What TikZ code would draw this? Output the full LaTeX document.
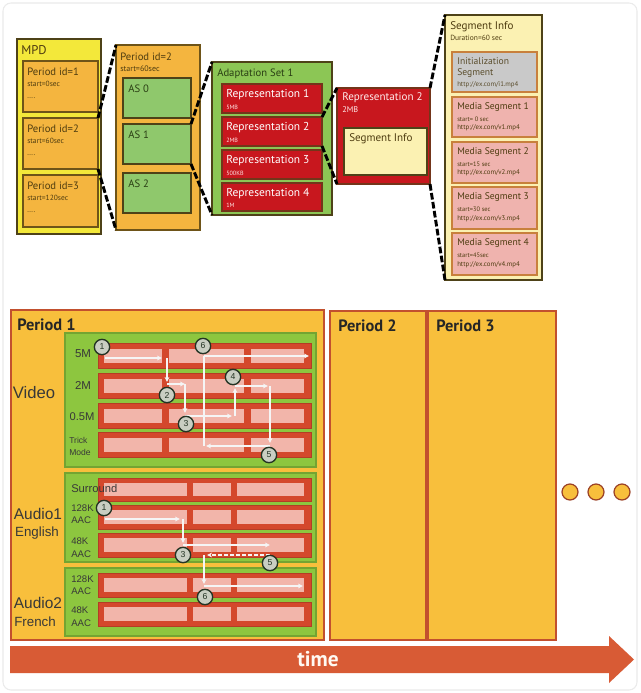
\documentclass[tikz,border=0pt]{standalone}
\usepackage{fontspec}
\setmainfont{PT Sans}
\newfontfamily\arialf{Liberation Sans}
\usetikzlibrary{arrows.meta}
\definecolor{mpdY}{HTML}{F3E83A}
\definecolor{orP}{HTML}{F4B53F}
\definecolor{edgeD}{HTML}{4E4218}
\definecolor{edgeB}{HTML}{6E5418}
\definecolor{asG}{HTML}{8FC86C}
\definecolor{adG}{HTML}{8CC655}
\definecolor{repR}{HTML}{C8171E}
\definecolor{segY}{HTML}{FBF1B2}
\definecolor{initG}{HTML}{C9C9C9}
\definecolor{medP}{HTML}{EFB3AE}
\definecolor{segE}{HTML}{C8803C}
\definecolor{txB}{HTML}{4E3C10}
\definecolor{txG}{HTML}{2A3E14}
\definecolor{perF}{HTML}{F8BF3C}
\definecolor{perE}{HTML}{C2502E}
\definecolor{grB}{HTML}{8DC63F}
\definecolor{grE}{HTML}{74A432}
\definecolor{rowR}{HTML}{D4482C}
\definecolor{pinkS}{HTML}{F2B5AA}
\definecolor{arrC}{HTML}{D85B35}
\definecolor{circF}{HTML}{C9CEC2}
\definecolor{circE}{HTML}{243424}
\newcommand{\bx}[6]{\node[#2,anchor=north west,inner sep=0pt,outer sep=0pt,minimum width={(#5-#3)*0.75pt},minimum height={(#6-#4)*0.75pt}] (#1) at (#3,#4) {};}
\begin{document}
\begin{tikzpicture}[x=0.75pt,y=-0.75pt,
  tx/.style={inner sep=0pt,anchor=west},
  big/.style={font=\fontsize{8}{9}\selectfont},
  small/.style={font=\fontsize{5.6}{6}\selectfont},
  tiny/.style={font=\fontsize{4.8}{5}\selectfont},
  url/.style={font=\fontsize{5.1}{5.5}\selectfont},
  mid/.style={font=\fontsize{7.2}{8}\selectfont},
  zoomline/.style={draw=black,line width=2.2pt,dash pattern=on 5pt off 1.8pt},
  mpdbox/.style={draw=edgeD,fill=mpdY,line width=1.4pt},
  perbox/.style={draw=edgeB,fill=orP,line width=1pt},
  asbox/.style={draw=edgeD,fill=asG,line width=1pt},
  adbox/.style={draw=edgeD,fill=adG,line width=1.4pt},
  repbox/.style={draw=edgeD!70!repR,fill=repR,line width=1pt},
  sibox/.style={draw=edgeD,fill=segY,line width=1.4pt},
  initbox/.style={draw=segE,fill=initG,line width=1pt},
  medbox/.style={draw=segE,fill=medP,line width=1pt},
  period/.style={draw=perE,fill=perF,line width=1pt},
  grbox/.style={draw=grE,fill=grB,line width=1pt},
  rowbox/.style={draw=rowR!85!black,fill=rowR,line width=0.6pt},
  lab/.style={inner sep=0pt,text=black!78,font=\arialf\fontsize{6.6}{7}\selectfont},
  biglab/.style={inner sep=0pt,text=black!78,font=\arialf\fontsize{12.5}{13}\selectfont},
  ptitle/.style={inner sep=0pt,anchor=west,text=black!85,font=\bfseries\fontsize{12.3}{13}\selectfont},
  num/.style={circle,draw=circE,fill=circF,line width=1pt,minimum size=11.5pt,inner sep=0pt,text=circE,font=\arialf\fontsize{6.5}{6.5}\selectfont},
  walk/.style={draw=white!92!gray,line width=1pt,-{Stealth[length=3.8pt,width=3.6pt]}},
  walkd/.style={walk,dash pattern=on 3pt off 1.5pt},
  dot/.style={circle,draw=perE!80!black,fill=perF,line width=0.9pt,minimum size=12pt,inner sep=0pt}
]
\useasboundingbox (0,0) rectangle (640,693);
\fill[white] (0,0) rectangle (640,693);
\draw[black!8,line width=0.8pt,rounded corners=6pt] (3,3) rectangle (637,690);

% ---------- TOP: MPD ----------
\bx{mpd}{mpdbox}{17}{39}{101}{234}
\node[tx,text=txB,font=\fontsize{9.5}{10}\selectfont] (mpdt) at (21,50) {MPD};
\bx{pid1}{perbox}{23}{61}{98}{112}
\bx{pid2}{perbox}{23}{118}{98}{169}
\bx{pid3}{perbox}{23}{175}{98}{227}
\node[tx,big,text=txB] (p1a) at (27,72) {Period id=1};
\node[tx,small,text=txB] (p1b) at (27,84) {start=0sec};
\node[tx,small,text=txB] (p1c) at (27,98) {....};
\node[tx,big,text=txB] (p2a) at (27,129) {Period id=2};
\node[tx,small,text=txB] (p2b) at (27,141) {start=60sec};
\node[tx,small,text=txB] (p2c) at (27,155) {....};
\node[tx,big,text=txB] (p3a) at (27,186) {Period id=3};
\node[tx,small,text=txB] (p3b) at (27,198) {start=120sec};
\node[tx,small,text=txB] (p3c) at (27,212) {....};

% ---------- Period detail ----------
\bx{pdet}{perbox}{116}{45}{200}{230}
\node[tx,big,text=txB] (pdt1) at (120,57) {Period id=2};
\node[tx,small,text=txB,font=\fontsize{6}{6}\selectfont] (pdt2) at (120,69) {start=60sec};
\bx{as0}{asbox}{123}{78}{191}{118}
\bx{as1}{asbox}{123}{124}{191}{164}
\bx{as2}{asbox}{123}{173}{191}{213}
\node[tx,big,text=txG] (as0t) at (128,89) {AS 0};
\node[tx,big,text=txG] (as1t) at (128,135) {AS 1};
\node[tx,big,text=txG] (as2t) at (128,184) {AS 2};

% ---------- Adaptation set ----------
\bx{aset}{adbox}{212}{62}{332}{215}
\node[tx,big,text=txG] (asett) at (217,74) {Adaptation Set 1};
\bx{r1}{repbox}{222}{84}{322}{113}
\bx{r2}{repbox}{222}{117}{322}{146}
\bx{r3}{repbox}{222}{150}{322}{179}
\bx{r4}{repbox}{222}{183}{322}{211}
\node[tx,text=white,font=\fontsize{8.6}{9}\selectfont] (r1a) at (226,95) {Representation 1};
\node[tx,text=white!90!red,font=\fontsize{4.6}{5}\selectfont] (r1b) at (226,107) {5MB};
\node[tx,text=white,font=\fontsize{8.6}{9}\selectfont] (r2a) at (226,128) {Representation 2};
\node[tx,text=white!90!red,font=\fontsize{4.6}{5}\selectfont] (r2b) at (226,140) {2MB};
\node[tx,text=white,font=\fontsize{8.6}{9}\selectfont] (r3a) at (226,161) {Representation 3};
\node[tx,text=white!90!red,font=\fontsize{4.6}{5}\selectfont] (r3b) at (226,173) {500KB};
\node[tx,text=white,font=\fontsize{8.6}{9}\selectfont] (r4a) at (226,194) {Representation 4};
\node[tx,text=white!90!red,font=\fontsize{4.6}{5}\selectfont] (r4b) at (226,205) {1M};

% ---------- Big representation ----------
\bx{brep}{repbox}{337}{88}{430}{184}
\node[tx,text=white!92!red,font=\fontsize{8.3}{9}\selectfont] (brt1) at (342,98) {Representation 2};
\node[tx,text=white!92!red,font=\fontsize{6.2}{7}\selectfont] (brt2) at (342,110) {2MB};
\bx{bseg}{draw=edgeD,fill=segY,line width=0.8pt}{344}{128}{427}{175}
\node[tx,text=txB,font=\fontsize{8.3}{9}\selectfont] (bsegt) at (349,139) {Segment Info};

% ---------- Segment Info ----------
\bx{sinfo}{sibox}{445}{15}{542}{280}
\node[tx,text=txB,font=\fontsize{8.3}{9}\selectfont] (sit1) at (450,27) {Segment Info};
\node[tx,text=txB,font=\fontsize{5.6}{6}\selectfont] (sit2) at (450,38) {Duration=60 sec};
\bx{init}{initbox}{452}{52}{537}{92}
\node[tx,mid,text=txB!75!gray] (in1) at (457,61) {Initialization};
\node[tx,mid,text=txB!75!gray] (in2) at (457,73) {Segment};
\node[tx,url,text=txB!75!gray] (in3) at (457,85) {http://ex.com/i1.mp4};
\bx{ms1}{medbox}{452}{97}{537}{137}
\bx{ms2}{medbox}{452}{142}{537}{183}
\bx{ms3}{medbox}{452}{187}{537}{229}
\bx{ms4}{medbox}{452}{233}{537}{275}
\node[tx,mid,text=txB] (m1a) at (457,107) {Media Segment 1};
\node[tx,tiny,text=txB] (m1b) at (457,119) {start= 0 sec};
\node[tx,url,text=txB] (m1c) at (457,128) {http://ex.com/v1.mp4};
\node[tx,mid,text=txB] (m2a) at (457,152) {Media Segment 2};
\node[tx,tiny,text=txB] (m2b) at (457,164) {start=15 sec};
\node[tx,url,text=txB] (m2c) at (457,173) {http://ex.com/v2.mp4};
\node[tx,mid,text=txB] (m3a) at (457,197) {Media Segment 3};
\node[tx,tiny,text=txB] (m3b) at (457,209) {start=30 sec};
\node[tx,url,text=txB] (m3c) at (457,219) {http://ex.com/v3.mp4};
\node[tx,mid,text=txB] (m4a) at (457,243) {Media Segment 4};
\node[tx,tiny,text=txB] (m4b) at (457,255) {start=45sec};
\node[tx,url,text=txB] (m4c) at (457,265) {http://ex.com/v4.mp4};

% ---------- zoom connectors ----------
\draw[zoomline] (pid2.north east) -- (pdet.north west);
\draw[zoomline] (pid2.south east) -- (pdet.south west);
\draw[zoomline] (as1.north east) -- (aset.north west);
\draw[zoomline] (as1.south east) -- (aset.south west);
\draw[zoomline] (r2.north east) -- (brep.north west);
\draw[zoomline] (r2.south east) -- (brep.south west);
\draw[zoomline] (brep.north east) -- (sinfo.north west);
\draw[zoomline] (brep.south east) -- (sinfo.south west);

% ---------- BOTTOM ----------
\bx{per1}{period}{11}{310}{324}{640}
\bx{per2}{period}{330}{311}{426}{640}
\bx{per3}{period}{428}{311}{556}{640}
\node[ptitle] (per1t) at (17,325) {Period 1};
\node[ptitle] (per2t) at (338,326) {Period 2};
\node[ptitle] (per3t) at (436,326) {Period 3};

\bx{gvid}{grbox}{65}{333}{316}{467}
\bx{gau1}{grbox}{65}{473}{316}{562}
\bx{gau2}{grbox}{65}{568}{316}{636}

% video rows
\foreach \n/\a/\b in {v1/343/368, v2/373/398, v3/403/428, v4/432/457}{
  \bx{\n}{rowbox}{98}{\a}{311}{\b}
  \fill[pinkS] (104,\a+6) rectangle (162,\b-5);
  \fill[pinkS] (169,\a+6) rectangle (244,\b-5);
  \fill[pinkS] (251,\a+6) rectangle (304,\b-5);
}
% audio rows
\foreach \n/\a/\b in {a1/478/501, a2/505/529, a3/533/557, a4/573/597, a5/602/626}{
  \bx{\n}{rowbox}{98}{\a}{311}{\b}
  \fill[pinkS] (104,\a+5) rectangle (187,\b-5);
  \fill[pinkS] (193,\a+5) rectangle (231,\b-5);
  \fill[pinkS] (237,\a+5) rectangle (304,\b-5);
}

% labels
\node[biglab] (lvid) at (34,393) {Video};
\node[lab,font=\arialf\fontsize{8.6}{9}\selectfont] (l5m) at (83,354) {5M};
\node[lab,font=\arialf\fontsize{8.6}{9}\selectfont] (l2m) at (83,385) {2M};
\node[lab,font=\arialf\fontsize{8.4}{9}\selectfont] (l05) at (82,417) {0.5M};
\node[lab,anchor=west,font=\arialf\fontsize{6.4}{7}\selectfont] (ltr1) at (69,440) {Trick};
\node[lab,anchor=west,font=\arialf\fontsize{6.4}{7}\selectfont] (ltr2) at (69,452) {Mode};

\node[biglab,font=\arialf\fontsize{11.6}{12}\selectfont] (la1) at (38,514) {Audio1};
\node[biglab,font=\arialf\fontsize{10}{10}\selectfont] (la1b) at (37,533) {English};
\node[biglab,font=\arialf\fontsize{11.6}{12}\selectfont] (la2) at (38,603) {Audio2};
\node[biglab,font=\arialf\fontsize{10}{10}\selectfont] (la2b) at (35,622) {French};
\node[lab,anchor=west,font=\arialf\fontsize{8.4}{9}\selectfont] (lsur) at (71,488) {Surround};
\node[lab,anchor=west,font=\arialf\fontsize{7.2}{8}\selectfont] (l128a) at (71,508) {128K};
\node[lab,anchor=west,font=\arialf\fontsize{7.2}{8}\selectfont] (lac1) at (71,520) {AAC};
\node[lab,anchor=west,font=\arialf\fontsize{7.2}{8}\selectfont] (l48a) at (71,541) {48K};
\node[lab,anchor=west,font=\arialf\fontsize{7.2}{8}\selectfont] (lac2) at (71,554) {AAC};
\node[lab,anchor=west,font=\arialf\fontsize{7.2}{8}\selectfont] (l128b) at (71,579) {128K};
\node[lab,anchor=west,font=\arialf\fontsize{7.2}{8}\selectfont] (lac3) at (71,591) {AAC};
\node[lab,anchor=west,font=\arialf\fontsize{7.2}{8}\selectfont] (l48b) at (71,610) {48K};
\node[lab,anchor=west,font=\arialf\fontsize{7.2}{8}\selectfont] (lac4) at (71,623) {AAC};

% video walk
\draw[walk] (105,358) -- (162,358);
\draw[walk] (167,358) -- (167,382);
\draw[walk] (167,384) -- (185,384);
\draw[walk] (185,384) -- (185,413);
\draw[walk] (185,416) -- (232,416);
\draw[walk] (235,416) -- (235,388);
\draw[walk] (235,386) -- (268,386);
\draw[walk] (270,386) -- (270,443);
\draw[walk] (270,446) -- (206,446);
\draw[draw=white!92!gray,line width=1pt] (204,446) -- (204,356);
\draw[walk] (204,356) -- (309,356);

% audio walk
\draw[walk] (105,519) -- (180,519);
\draw[walk] (183,519) -- (183,543);
\draw[walk] (183,545) -- (270,545);
\draw[walkd] (270,555) -- (207,555);
\draw[walk] (204,555) -- (204,584);
\draw[walk] (204,586) -- (303,586);

% circled numbers
\node[num] (v1n) at (102,347) {1};
\node[num] (v6n) at (203,346) {6};
\node[num] (v4n) at (233,377) {4};
\node[num] (v2n) at (167,395) {2};
\node[num] (v3n) at (186,424) {3};
\node[num] (v5n) at (269,455) {5};
\node[num] (a1n) at (104,508) {1};
\node[num] (a3n) at (183,555) {3};
\node[num] (a5n) at (270,563) {5};
\node[num] (a6n) at (205,597) {6};

% dots
\node[dot] (d1) at (570,492) {};
\node[dot] (d2) at (596,492) {};
\node[dot] (d3) at (622,492) {};

% time arrow
\fill[arrC] (10,646) -- (609,646) -- (609,636) -- (634,659.5) -- (609,683) -- (609,673) -- (10,673) -- cycle;
\node[inner sep=0pt,text=white!95!orange,font=\bfseries\fontsize{16}{16}\selectfont] (timet) at (318,659) {time};
\end{tikzpicture}
\end{document}
